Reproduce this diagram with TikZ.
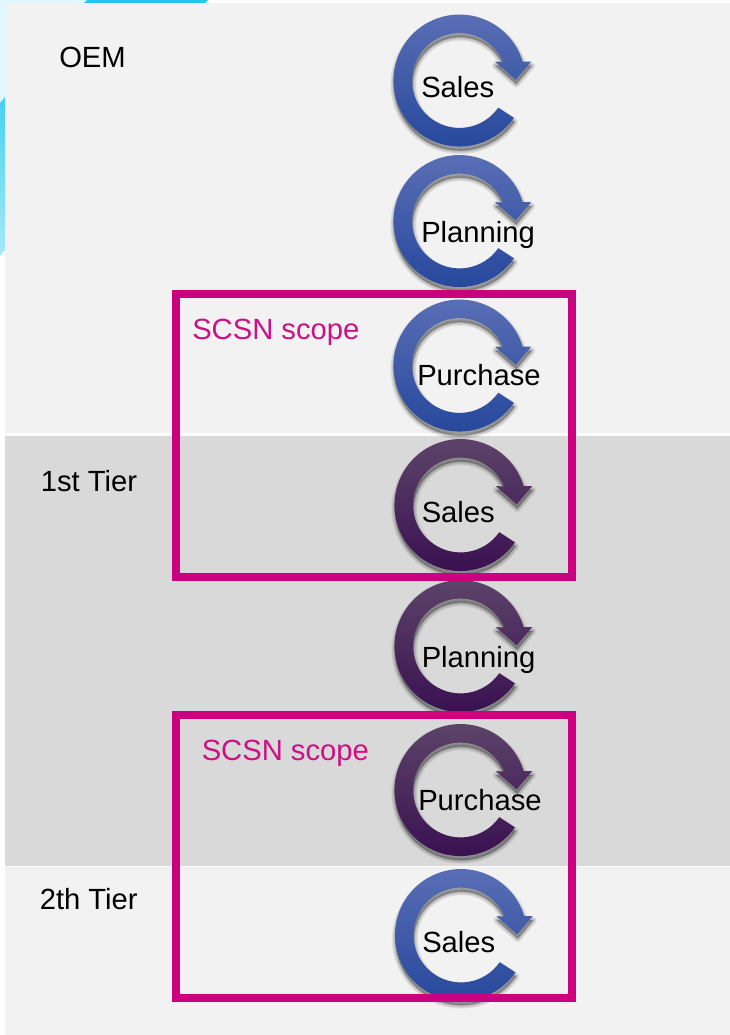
\documentclass[tikz,border=0pt]{standalone}
\usepackage{fontspec}
\setmainfont{Liberation Sans}
\newcommand{\cycleoutline}{(63.2,-18.8) arc[start angle=-16.6,end angle=-325.6,radius=66] -- (38.8,27.2) arc[start angle=-325,end angle=-23.2,radius=47.4] -- (35.5,-18.8) -- (56.2,-0.5) -- (71.6,-18.8) -- cycle}
\tikzset{
  tier band/.style={draw=none},
  scope frame/.style={draw={rgb,255:red,204;green,0;blue,127},line width=6pt},
  tier label/.style={anchor=base west,inner sep=0pt,font=\fontsize{21.9}{26}\selectfont},
  scope label/.style={tier label,text={rgb,255:red,204;green,16;blue,133}},
  cycle shadow/.style={fill=black,draw=black,opacity=0.055,line join=round},
  pics/cyclearrow/.style={code={
    \foreach \w in {5.5,4.4,3.3,2.2,1.1,0.3}
      \path [cycle shadow,line width=\w pt,shift={(0.5,4)}] \cycleoutline;
    \path [pic actions] \cycleoutline;
  }},
  blue cycle/.style={top color={rgb,255:red,92;green,112;blue,182},bottom color={rgb,255:red,36;green,70;blue,155}},
  purple cycle/.style={top color={rgb,255:red,94;green,70;blue,106},bottom color={rgb,255:red,56;green,14;blue,80}}
}
\begin{document}
\begin{tikzpicture}[x=0.75pt,y=0.75pt,yscale=-1,xscale=1]
\useasboundingbox (0,0) rectangle (730,1035);

%Shape: corner behind the bands
\fill [color={rgb,255:red,224;green,247;blue,253}] (0,0) rectangle (87,3) (0,0) rectangle (5,103);
\fill [color={rgb,255:red,34;green,200;blue,240}] (84,3) -- (87,0) -- (208,0) -- (205,3) -- cycle;
\shade [top color={rgb,255:red,70;green,208;blue,240},bottom color={rgb,255:red,165;green,234;blue,248}] (0,103) -- (5,97) -- (5,250) -- (0,256) -- cycle;

%Shape: tier bands
\fill [tier band,color={rgb,255:red,242;green,242;blue,242}] (5,3) rectangle (730,433);
\fill [tier band,color={rgb,255:red,217;green,217;blue,217}] (5,436) rectangle (730,866);
\fill [tier band,color={rgb,255:red,242;green,242;blue,242}] (5,867) rectangle (730,1035);

%Shape: cycle arrows
\foreach \cx/\cy/\cyclestyle in {459.5/80.5/blue cycle,459.5/221/blue cycle,459.5/365.5/blue cycle,460.5/505/purple cycle,460.5/646/purple cycle,460.5/790/purple cycle,461/935/blue cycle}
  \pic [\cyclestyle,transform shape] at (\cx,\cy) {cyclearrow};

%Shape: scope frames
\draw [scope frame] (175.5,294) rectangle (571.7,576.7);
\draw [scope frame] (175.5,715) rectangle (571.7,998);

% Text Node
\node (oem) at (59,67.7) [tier label] {OEM};
% Text Node
\node (firsttier) at (40.5,491) [tier label] {1st Tier};
% Text Node
\node (secondtier) at (39.5,909) [tier label] {2th Tier};
% Text Node
\node (scopeone) at (192,339) [scope label] {SCSN scope};
% Text Node
\node (scopetwo) at (201.5,760) [scope label] {SCSN scope};
% Text Node
\node (salesoem) at (421,97) [tier label] {Sales};
% Text Node
\node (planningoem) at (421,242) [tier label] {Planning};
% Text Node
\node (purchaseoem) at (417,385) [tier label] {Purchase};
% Text Node
\node (salesfirst) at (421.5,522) [tier label] {Sales};
% Text Node
\node (planningfirst) at (421.5,667) [tier label] {Planning};
% Text Node
\node (purchasefirst) at (418,810) [tier label] {Purchase};
% Text Node
\node (salessecond) at (422,952) [tier label] {Sales};
\end{tikzpicture}
\end{document}
